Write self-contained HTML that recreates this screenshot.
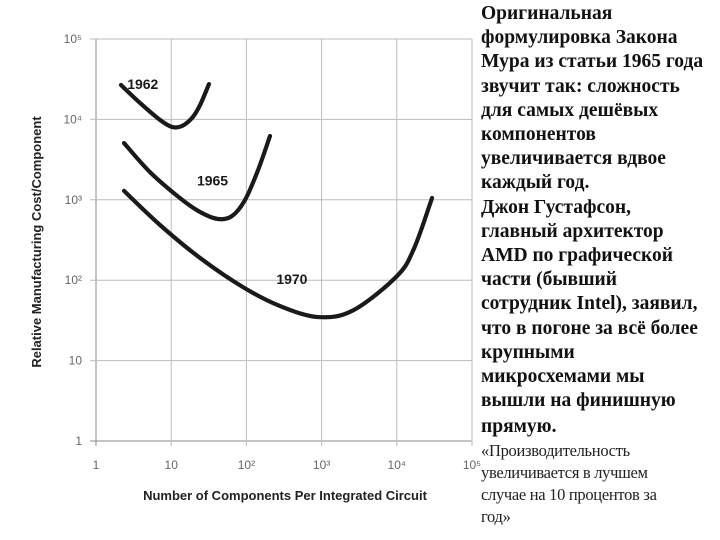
<!DOCTYPE html>
<html><head><meta charset="utf-8"><style>
body{margin:0;background:#fff;width:720px;height:540px;overflow:hidden;position:relative;font-family:"Liberation Sans",sans-serif}
#txt{position:absolute;left:481px;top:2px;font-family:"Liberation Serif",serif;font-weight:bold;font-size:19.5px;line-height:24.2px;color:#111;white-space:nowrap;letter-spacing:0px}
#txt2{position:absolute;left:481px;top:440px;font-family:"Liberation Serif",serif;font-size:16.5px;line-height:22px;color:#222;white-space:nowrap;letter-spacing:-0.3px}
</style></head><body>
<svg id="chart" width="720" height="540" style="position:absolute;left:0;top:0"></svg>
<div id="txt">Оригинальная<br>формулировка Закона<br>Мура из статьи 1965 года<br>звучит так: сложность<br>для самых дешёвых<br>компонентов<br>увеличивается вдвое<br>каждый год.<br>Джон Густафсон,<br>главный архитектор<br>AMD по графической<br>части (бывший<br>сотрудник Intel), заявил,<br>что в погоне за всё более<br>крупными<br>микросхемами мы<br>вышли на финишную<br><span style="line-height:28px">прямую.</span></div>
<div id="txt2">«Производительность<br>увеличивается в лучшем<br>случае на 10 процентов за<br>год»</div>
<script>
const xTickLabels=["1","10","10²","10³","10⁴","10⁵"];
const yTickLabels=["1","10","10²","10³","10⁴","10⁵"];
const seriesNames=["1962","1965","1970"];
const x1962=[2.15,3.85,7.1,10.3,13.9,18.9,24.2,31.8];
const y1962=[26800,16000,9840,8040,8280,10400,15100,27500];
const x1965=[2.36,5.2,13.1,24.2,41.9,64.4,95.8,143,206];
const y1965=[5080,2220,1050,705,577,629,995,2350,6220];
const x1970=[2.36,7.1,24.2,90,280,896,2600,10000,17000,29400];
const y1970=[1290,486,189,82,47.7,34.8,42,112,250,1052];
const labelPos=[[2.6,24000],[22,1500],[250,90]];

const svg=document.getElementById('chart');const NS='http://www.w3.org/2000/svg';
const X0=96,DX=75.2,Y0=441,DY=80.4;
const sx=v=>X0+Math.log10(v)*DX, sy=v=>Y0-Math.log10(v)*DY;
function mk(t,a,p){const e=document.createElementNS(NS,t);for(const k in a)e.setAttribute(k,a[k]);(p||svg).appendChild(e);return e;}
for(let i=0;i<6;i++){
 const x=sx(Math.pow(10,i)),y=sy(Math.pow(10,i));
 const gx=mk('line',{x1:x,y1:39,x2:x,y2:446,stroke:i==0?'#888':'#bbb','stroke-width':1});
 
 
 const gy=mk('line',{x1:90,y1:y,x2:472,y2:y,stroke:i==0?'#888':'#bbb','stroke-width':1});
 
 
 const tx=mk('text',{x:x,y:469,'text-anchor':'middle','font-size':12,fill:'#666'});tx.textContent=xTickLabels[i];
 
 
 const ty=mk('text',{x:82,y:y+4,'text-anchor':'end','font-size':12,fill:'#666'});ty.textContent=yTickLabels[i];
 
 
}
function curve(xs,ys){const p=xs.map((v,i)=>[sx(v),sy(ys[i])]);let d='M'+p[0][0]+','+p[0][1];
 for(let i=0;i<p.length-1;i++){const a=p[i-1]||p[i],b=p[i],c=p[i+1],e=p[i+2]||c;
 d+=`C${b[0]+(c[0]-a[0])/6},${b[1]+(c[1]-a[1])/6} ${c[0]-(e[0]-b[0])/6},${c[1]-(e[1]-b[1])/6} ${c[0]},${c[1]}`;}return d;}
[[x1962,y1962],[x1965,y1965],[x1970,y1970]].forEach((s,i)=>{
 const path=mk('path',{d:curve(s[0],s[1]),fill:'none',stroke:'#1a1a1a','stroke-width':4.2,'stroke-linecap':'round','stroke-linejoin':'round'});
 
 
 const t=mk('text',{x:sx(labelPos[i][0]),y:sy(labelPos[i][1]),'font-size':14,'font-weight':'bold',fill:'#1a1a1a'});t.textContent=seriesNames[i];
 
 
});
const xt=mk('text',{x:285,y:500,'text-anchor':'middle','font-size':13,'font-weight':'bold',fill:'#222'});xt.textContent='Number of Components Per Integrated Circuit';


const yt=mk('text',{x:0,y:0,transform:'translate(41,242) rotate(-90)','text-anchor':'middle','font-size':13,'font-weight':'bold',fill:'#222'});yt.textContent='Relative Manufacturing Cost/Component';


</script>
</body></html>
